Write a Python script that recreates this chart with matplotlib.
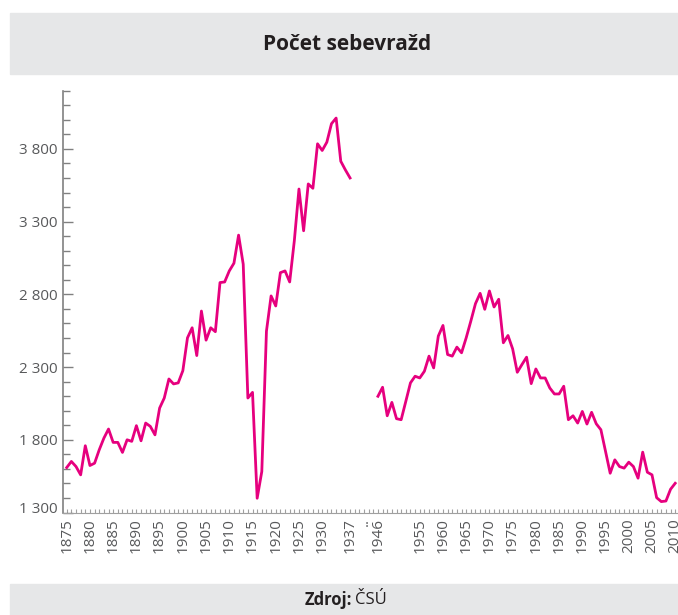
import numpy as np
import matplotlib
matplotlib.use("Agg")
import matplotlib.pyplot as plt
from matplotlib.patches import Rectangle
from matplotlib.ticker import FixedLocator, FuncFormatter
import matplotlib.transforms as mtransforms

plt.rcParams['font.family'] = ['Open Sans', 'DejaVu Sans']

# ---- data ----
title = "Počet sebevražd"
source_label = "Zdroj:"
source_name = "ČSÚ"

# first period (1875 – 1937), one value per category slot
values_a = [1609, 1651, 1616, 1559, 1759, 1623, 1639, 1731, 1811, 1874,
            1782, 1782, 1713, 1800, 1789, 1897, 1793, 1915, 1892, 1834,
            2018, 2087, 2218, 2184, 2191, 2275, 2501, 2570, 2379, 2685,
            2485, 2570, 2543, 2881, 2885, 2961, 3014, 3207, 3007, 2087,
            2126, 1398, 1582, 2547, 2789, 2720, 2949, 2961, 2885, 3168,
            3524, 3237, 3559, 3529, 3835, 3789, 3846, 3973, 4012, 3715,
            3655, 3600]

# second period (1946 – 2010)
years_b = list(range(1946, 2011))
values_b = [2099, 2161, 1965, 2057, 1945, 1938, 2064, 2191, 2237, 2225,
            2271, 2375, 2294, 2513, 2586, 2386, 2375, 2437, 2398, 2501,
            2616, 2736, 2807, 2697, 2823, 2713, 2766, 2467, 2517, 2425,
            2264, 2317, 2368, 2186, 2287, 2225, 2225, 2156, 2115, 2115,
            2168, 1938, 1965, 1915, 1995, 1908, 1989, 1910, 1869, 1720,
            1570, 1662, 1616, 1605, 1646, 1616, 1536, 1715, 1577, 1559,
            1402, 1375, 1379, 1460, 1501]

labels_a = ['1875', '1880', '1885', '1890', '1895', '1900', '1905', '1910',
            '1915', '1920', '1925', '1930', '1937']
gap_label = '..'
labels_b = ['1946', '1955', '1960', '1965', '1970', '1975', '1980', '1985',
            '1990', '1995', '2000', '2005', '2010']

y_major = [1300, 1800, 2300, 2800, 3300, 3800]

# ---- layout ----
W, H = 678, 615
fig = plt.figure(figsize=(W / 100, H / 100), dpi=100)
fig.patch.set_facecolor('white')

box_col = '#e6e7e8'
fig.patches.append(Rectangle((10 / W, 1 - 74 / H), (W - 10) / W, 61.3 / H,
                             transform=fig.transFigure, color=box_col, zorder=0))
fig.patches.append(Rectangle((10 / W, 0), (W - 10) / W, (H - 584) / H,
                             transform=fig.transFigure, color=box_col, zorder=0))

fig.text(347 / W, 1 - 44 / H, title, ha='center', va='center',
         fontsize=15, fontweight='bold', color='#231f20')
fig.text(352 / W, 1 - 600 / H, source_label, ha='right', va='center',
         fontsize=12, fontweight='bold', color='#231f20')
fig.text(355 / W, 1 - 600 / H, source_name, ha='left', va='center',
         fontsize=12, color='#231f20')

ax_left, ax_bottom_px, ax_top_px = 63, 512.5, 90.7
ax = fig.add_axes([ax_left / W, (H - ax_bottom_px) / H,
                   (W - ax_left) / W, (ax_bottom_px - ax_top_px) / H])

# category slots: first period sequential, then a gap, then second period
gap_slots = 6
start_b = len(values_a) - 1 + gap_slots
x_a = np.arange(len(values_a))
x_b = start_b + (np.array(years_b) - years_b[0])

line_col = '#e6007e'
ax.plot(x_a, values_a, color=line_col, lw=2.0, solid_joinstyle='round',
        clip_on=False)
ax.plot(x_b, values_b, color=line_col, lw=2.0, solid_joinstyle='round',
        clip_on=False)

n_slots = int(x_b[-1])
ax.set_xlim(-0.8, n_slots + 0.6)
ax.set_ylim(1300, 4200)

# x ticks
pos_a = [i * 5 for i in range(len(labels_a) - 1)] + [len(values_a) - 1]
pos_gap = [(len(values_a) - 1 + start_b) / 2]
pos_b = [start_b + int(l) - years_b[0] for l in labels_b]
ax.set_xticks(pos_a + pos_gap + pos_b)
ax.set_xticklabels(labels_a + [gap_label] + labels_b, rotation=90)
ax.xaxis.set_minor_locator(FixedLocator(np.arange(0, n_slots + 1)))

# y ticks
ax.yaxis.set_major_locator(FixedLocator(y_major))
ax.yaxis.set_minor_locator(FixedLocator(np.arange(1300, 4201, 100)))
ax.yaxis.set_major_formatter(FuncFormatter(lambda v, p: f"{int(v):,}".replace(',', ' ')))

grey = '#808080'
txt_grey = '#58595b'
for s in ['top', 'right']:
    ax.spines[s].set_visible(False)
ax.spines['left'].set_color(grey)
ax.spines['left'].set_linewidth(1.2)
ax.spines['bottom'].set_color('#a0a0a0')
ax.spines['bottom'].set_linewidth(0.8)

ax.tick_params(axis='y', which='major', direction='in', length=7, width=1,
               color=grey, labelsize=11, labelcolor=txt_grey, pad=4)
ax.tick_params(axis='y', which='minor', direction='in', length=5, width=1,
               color=grey)
ax.tick_params(axis='x', which='both', direction='in', length=3, width=0.8,
               color='#a0a0a0')
ax.tick_params(axis='x', which='major', labelsize=11, labelcolor=txt_grey, pad=4)

# lowest y label sits slightly above its tick, as in the reference
fig.canvas.draw()
lab0 = ax.yaxis.get_major_ticks()[0].label1
lab0.set_transform(lab0.get_transform() +
                   mtransforms.ScaledTranslation(0, 5 / 100, fig.dpi_scale_trans))

ax.set_facecolor('none')
fig.savefig('out.png', dpi=100)
